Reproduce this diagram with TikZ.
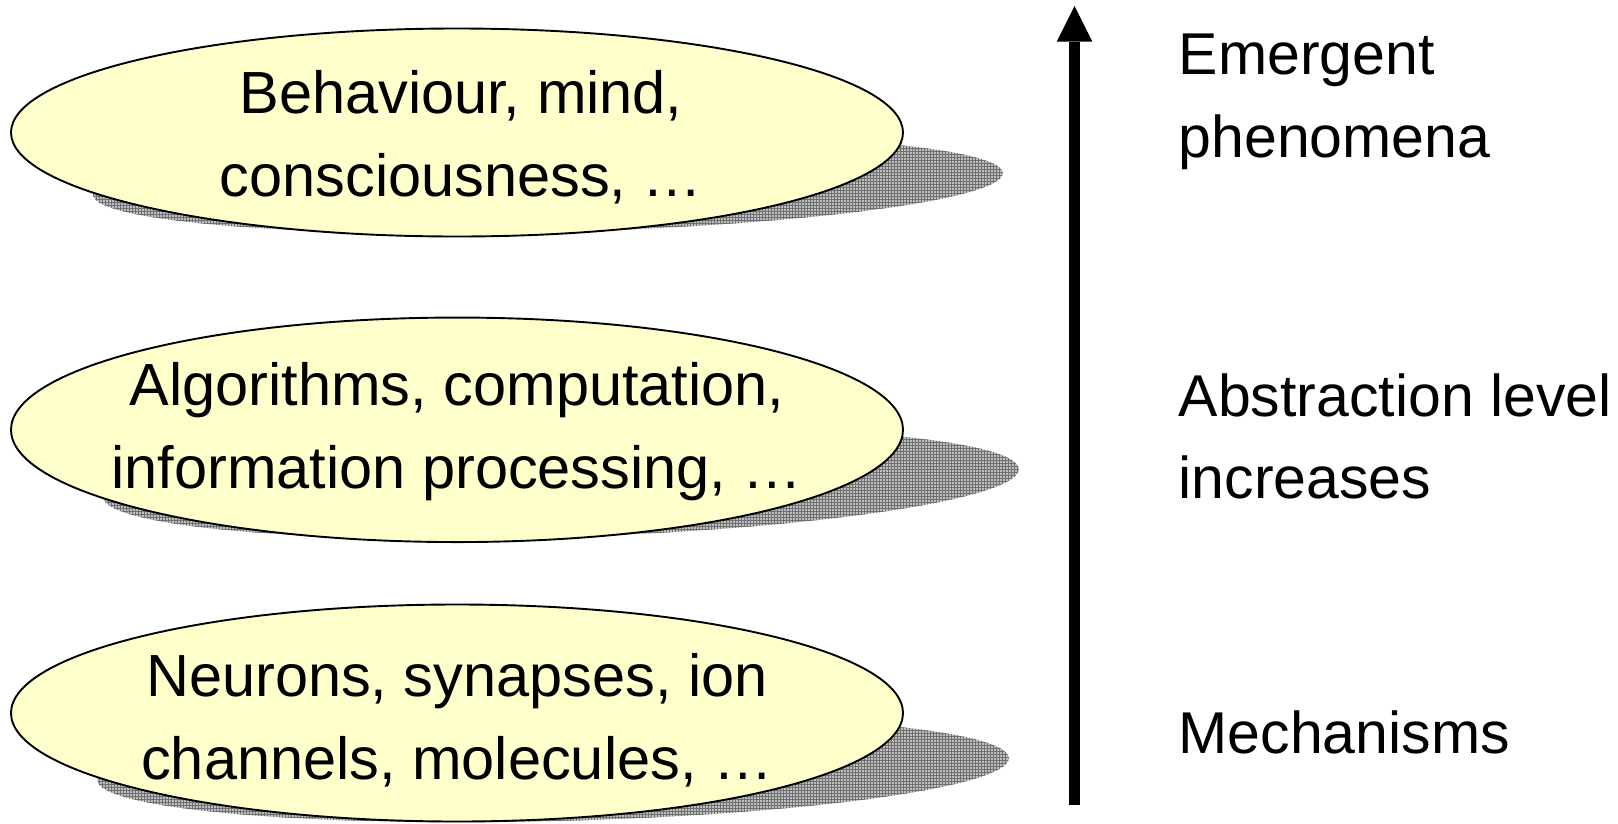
\documentclass[tikz,border=0pt]{standalone}
\usepackage{fontspec}
\setmainfont{Liberation Sans}
\usetikzlibrary{shapes.geometric,patterns,arrows.meta}
\definecolor{bubblefill}{HTML}{FFFFCC}
\definecolor{shadowfill}{HTML}{BEBEBE}
\definecolor{gridline}{HTML}{707070}
\newcommand\tstrA{\rule{0pt}{50pt}}
\newcommand\bstrA{\rule[-15pt]{0pt}{15pt}}
\begin{document}
\begin{tikzpicture}[x=1pt,y=-1pt,
  bubble/.style={ellipse, draw=black, line width=1.9pt, fill=bubblefill, minimum width=892pt, inner sep=0pt},
  shadowst/.style={preaction={fill=shadowfill}, pattern=grid, pattern color=gridline},
  lbl/.style={font=\fontsize{59.5}{82.5}\selectfont, inner sep=0pt, align=center},
  side/.style={font=\fontsize{59}{82.5}\selectfont, inner sep=0pt, align=left, anchor=west}]
\useasboundingbox (0,0) rectangle (1618,823);
% shadows
\path[shadowst, rotate around={1.38:(548,184)}] (548,184) ellipse [x radius=455, y radius=48];
\path[shadowst, rotate around={1.75:(561,483)}] (561,483) ellipse [x radius=458, y radius=54];
\path[shadowst, rotate around={1.38:(553,769)}] (553,769) ellipse [x radius=456, y radius=52];
% ellipses
\node[bubble, minimum height=208pt] (e1) at (457,132.5) {};
\node[bubble, minimum height=224.5pt] (e2) at (457,429.8) {};
\node[bubble, minimum height=217pt] (e3) at (457,713) {};
% texts in ellipses
\node[lbl] (t1) at (461,137.25) {\tstrA Behaviour, mind,\\consciousness, …\bstrA};
\node[lbl] (t2) at (457,429.25) {\tstrA Algorithms, computation,\\information processing, …\bstrA};
\node[lbl] (t3) at (457,720.25) {\tstrA Neurons, synapses, ion\\channels, molecules, …\bstrA};
% arrow
\coordinate (abot) at (1074.5,805);
\coordinate (atip) at (1074.5,6);
\draw[line width=11.7pt, -{Triangle[width=35.7pt,length=35.7pt,line width=0pt]}] (abot) -- (atip);
% side texts
\node[side] (s1) at (1178.5,98.5) {\tstrA Emergent\\phenomena\bstrA};
\node[side] (s2) at (1178.5,440) {\tstrA Abstraction level\\increases\bstrA};
\node[side, anchor=base west] (s3) at (1178.5,753) {Mechanisms};
\end{tikzpicture}
\end{document}
